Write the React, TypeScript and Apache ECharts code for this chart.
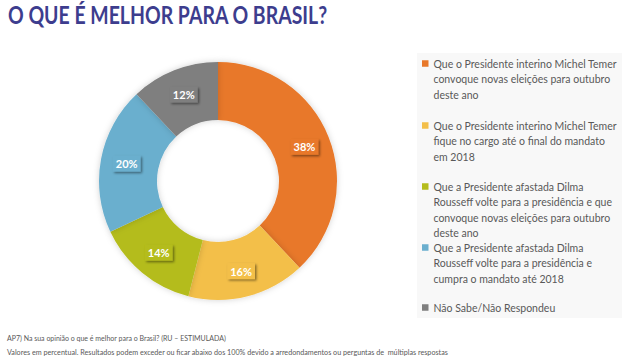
import React, { useEffect, useRef } from "react";
import * as echarts from "echarts";

const titleText = "O QUE É MELHOR PARA O BRASIL?";
const footerLines = [
  "AP7) Na sua opinião o que é melhor para o Brasil? (RU – ESTIMULADA)",
  "Valores em percentual. Resultados podem exceder ou ficar abaixo dos 100% devido a arredondamentos ou perguntas de  múltiplas respostas",
];
const categoryLines: string[][] = [
  ["Que o Presidente interino Michel Temer", "convoque novas eleições para outubro", "deste ano"],
  ["Que o Presidente interino Michel Temer", "fique no cargo até o final do mandato", "em 2018"],
  ["Que a Presidente afastada Dilma", "Rousseff volte para a presidência e que", "convoque novas eleições para outubro", "deste ano"],
  ["Que a Presidente afastada Dilma", "Rousseff volte para a presidência e", "cumpra o mandato até 2018"],
  ["Não Sabe/Não Respondeu"],
];
const values = [38, 16, 14, 20, 12];
const colors = ["#E8782A", "#F3BF4A", "#B4BC1C", "#6BAFCE", "#7F7F7F"];
const legendTops = [56, 118, 179, 240, 300];

const LINE_H = 15.5;

export default function App() {
  const ref = useRef<HTMLDivElement>(null);
  useEffect(() => {
    document.body.style.margin = "0";
    const chart = echarts.init(ref.current!, null, { renderer: "svg" });
    const names = categoryLines.map((l) => l.join(" "));
    const legends = names.map((n, i) => {
      const h = categoryLines[i].length * LINE_H;
      return {
        data: [n],
        left: 422,
        top: legendTops[i],
        padding: 0,
        orient: "vertical",
        itemWidth: 6.5,
        itemHeight: h,
        icon: `path://M0,0L0.001,0ZM0,4.3H6.5V10.8H0ZM0,${h}L0.001,${h}Z`,
        itemStyle: { borderWidth: 0 },
        selectedMode: false,
        formatter: () => categoryLines[i].join("\n"),
        textStyle: {
          fontFamily: "Lato",
          fontSize: 10.5,
          color: "#595959",
          lineHeight: LINE_H,
        },
      };
    });
    chart.setOption({
      animation: false,
      backgroundColor: "#ffffff",
      title: [
        {
          text: footerLines[0],
          left: 7,
          top: 334,
          padding: 0,
          textStyle: { fontFamily: "Lato", fontWeight: "normal", fontSize: 7, color: "#595959" },
        },
        {
          text: footerLines[1],
          left: 7,
          top: 349,
          padding: 0,
          textStyle: { fontFamily: "Lato", fontWeight: "normal", fontSize: 7.2, color: "#595959" },
        },
      ],
      graphic: [
        {
          type: "rect",
          left: 417,
          top: 53,
          z: -1,
          shape: { width: 205, height: 265 },
          style: { fill: "#F8F8F8" },
        },
        {
          type: "text",
          x: 8,
          y: 3,
          scaleX: 0.81,
          style: {
            text: titleText,
            font: "bold 24px Lato",
            fill: "#3D3D8E",
            verticalAlign: "top",
          },
        },
      ],
      legend: legends,
      series: [
        {
          type: "pie",
          center: [218, 181],
          radius: [61, 119],
          startAngle: 90,
          clockwise: true,
          avoidLabelOverlap: false,
          itemStyle: {
            borderWidth: 0,
            shadowBlur: 6,
            shadowColor: "rgba(0,0,0,0.18)",
          },
          label: {
            show: true,
            position: "inside",
            formatter: "{c}%",
            color: "#ffffff",
            fontFamily: "Lato",
            fontWeight: "bold",
            fontSize: 11,
            padding: [3, 3, 2, 3],
            shadowColor: "rgba(0,0,0,0.45)",
            shadowBlur: 2,
            shadowOffsetX: 1.5,
            shadowOffsetY: 1.5,
          },
          labelLine: { show: false },
          emphasis: { disabled: true },
          data: names.map((n, i) => ({
            name: n,
            value: values[i],
            itemStyle: { color: colors[i] },
            label: { backgroundColor: colors[i] },
          })),
        },
      ],
    });
    return () => chart.dispose();
  }, []);
  return (
    <div
      ref={ref}
      style={{ position: "absolute", left: 0, top: 0, width: 640, height: 360 }}
    />
  );
}
